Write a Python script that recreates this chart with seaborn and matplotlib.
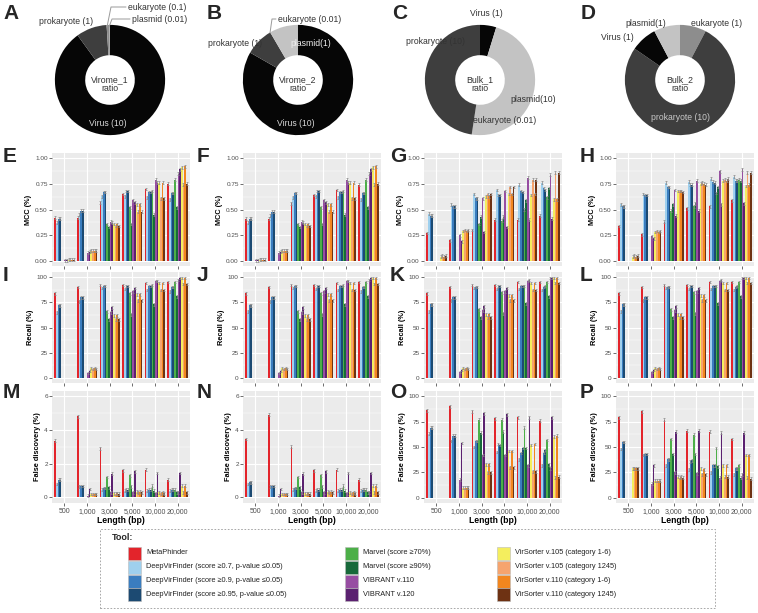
import numpy as np
import pandas as pd
import matplotlib
matplotlib.use("Agg")
import matplotlib.pyplot as plt
import seaborn as sns
from matplotlib.lines import Line2D
from matplotlib.patches import Rectangle

W, H = 758, 613

# ---------------- data ----------------
lengths = ["500", "1,000", "3,000", "5,000", "10,000", "20,000"]
tools = [
    "MetaPhinder",
    "DeepVirFinder (score \u22650.7, p-value \u22640.05)",
    "DeepVirFinder (score \u22650.9, p-value \u22640.05)",
    "DeepVirFinder (score \u22650.95, p-value \u22640.05)",
    "Marvel (score \u226570%)",
    "Marvel (score \u226590%)",
    "VIBRANT v.110",
    "VIBRANT v.120",
    "VirSorter v.105 (category 1-6)",
    "VirSorter v.105 (category 1245)",
    "VirSorter v.110 (category 1-6)",
    "VirSorter v.110 (category 1245)",
]
tool_colors = ["#E3242B", "#9FD0EE", "#3A7DBF", "#1C4A72",
               "#4CAF48", "#17693A", "#974DA2", "#5B2170",
               "#F4EE5E", "#F6A46E", "#F2861F", "#6E3213"]

# MCC (rows = lengths, cols = tools)
mcc_virome1 = [
    [0.42, 0.37, 0.41, 0.41, 0, 0, 0.005, 0.005, 0.01, 0.01, 0.01, 0.01],
    [0.42, 0.45, 0.49, 0.49, 0, 0, 0.08, 0.09, 0.10, 0.10, 0.10, 0.10],
    [0.57, 0.63, 0.67, 0.67, 0.36, 0.33, 0.38, 0.37, 0.36, 0.34, 0.36, 0.34],
    [0.65, 0.63, 0.68, 0.68, 0.52, 0.36, 0.59, 0.57, 0.55, 0.48, 0.55, 0.48],
    [0.70, 0.62, 0.67, 0.67, 0.68, 0.45, 0.79, 0.76, 0.76, 0.61, 0.76, 0.61],
    [0.75, 0.60, 0.66, 0.66, 0.79, 0.52, 0.85, 0.89, 0.91, 0.74, 0.92, 0.75],
]
mcc_virome2 = [
    [0.41, 0.37, 0.41, 0.41, 0, 0, 0.005, 0.005, 0.01, 0.01, 0.01, 0.01],
    [0.41, 0.44, 0.48, 0.48, 0, 0, 0.08, 0.09, 0.10, 0.10, 0.10, 0.10],
    [0.56, 0.62, 0.66, 0.66, 0.36, 0.33, 0.38, 0.37, 0.36, 0.34, 0.36, 0.34],
    [0.64, 0.63, 0.68, 0.68, 0.52, 0.36, 0.59, 0.57, 0.55, 0.48, 0.55, 0.48],
    [0.69, 0.62, 0.67, 0.67, 0.68, 0.45, 0.79, 0.76, 0.76, 0.61, 0.76, 0.61],
    [0.74, 0.60, 0.66, 0.66, 0.79, 0.52, 0.85, 0.89, 0.91, 0.74, 0.92, 0.75],
]
mcc_bulk1 = [
    [0.27, 0.46, 0.44, 0.44, 0, 0, 0, 0, 0.04, 0.05, 0.04, 0.05],
    [0.20, 0.55, 0.53, 0.53, 0, 0, 0.25, 0.19, 0.29, 0.30, 0.29, 0.30],
    [0.30, 0.65, 0.61, 0.61, 0.36, 0.43, 0.61, 0.28, 0.63, 0.65, 0.63, 0.65],
    [0.40, 0.69, 0.64, 0.64, 0.39, 0.43, 0.68, 0.33, 0.65, 0.72, 0.65, 0.72],
    [0.40, 0.74, 0.68, 0.67, 0.50, 0.59, 0.81, 0.40, 0.64, 0.79, 0.65, 0.79],
    [0.44, 0.76, 0.71, 0.69, 0.62, 0.71, 0.84, 0.41, 0.60, 0.86, 0.60, 0.86],
]
mcc_bulk2 = [
    [0.34, 0.55, 0.53, 0.53, 0, 0, 0, 0, 0.04, 0.05, 0.04, 0.05],
    [0.26, 0.65, 0.64, 0.64, 0, 0, 0.24, 0.22, 0.28, 0.29, 0.28, 0.29],
    [0.38, 0.76, 0.72, 0.72, 0.49, 0.55, 0.69, 0.44, 0.68, 0.68, 0.68, 0.67],
    [0.51, 0.77, 0.74, 0.74, 0.53, 0.56, 0.78, 0.49, 0.75, 0.76, 0.75, 0.74],
    [0.53, 0.80, 0.77, 0.76, 0.66, 0.72, 0.87, 0.55, 0.78, 0.79, 0.78, 0.80],
    [0.59, 0.82, 0.78, 0.78, 0.79, 0.78, 0.89, 0.56, 0.73, 0.86, 0.74, 0.86],
]
# Recall (%)
recall_virome1 = [
    [84, 65, 72, 72, 0, 0, 0, 0, 0, 0, 0, 0],
    [90, 76, 80, 80, 0, 0, 5, 7, 10, 9, 10, 9],
    [92, 89, 91, 91, 66, 58, 65, 70, 62, 58, 62, 58],
    [92, 88, 91, 91, 84, 63, 86, 89, 83, 77, 83, 77],
    [94, 87, 91, 91, 92, 73, 96, 96, 94, 87, 94, 87],
    [95, 86, 90, 90, 95, 81, 97, 99, 99, 93, 99, 93],
]
recall_virome2 = [
    [84, 66, 72, 72, 0, 0, 0, 0, 0, 0, 0, 0],
    [90, 76, 80, 80, 0, 0, 5, 7, 10, 9, 10, 9],
    [92, 89, 91, 91, 66, 58, 65, 70, 62, 58, 62, 58],
    [92, 88, 91, 91, 84, 63, 86, 89, 83, 77, 83, 77],
    [94, 87, 91, 91, 92, 73, 96, 96, 94, 87, 94, 87],
    [95, 86, 90, 90, 95, 81, 97, 99, 99, 93, 99, 93],
]
recall_bulk1 = [
    [84, 66, 73, 73, 0, 0, 0, 0, 0, 0, 0, 0],
    [90, 77, 80, 80, 0, 0, 6, 8, 10, 9, 10, 9],
    [92, 89, 90, 90, 68, 60, 67, 71, 63, 60, 63, 60],
    [92, 88, 91, 91, 85, 64, 86, 89, 82, 77, 82, 77],
    [95, 88, 91, 91, 91, 74, 96, 97, 94, 87, 94, 87],
    [95, 87, 90, 91, 95, 81, 99, 99, 99, 94, 99, 94],
]
recall_bulk2 = [
    [84, 66, 73, 73, 0, 0, 0, 0, 0, 0, 0, 0],
    [90, 77, 80, 80, 0, 0, 6, 8, 10, 9, 10, 9],
    [92, 89, 90, 90, 68, 60, 67, 71, 63, 60, 63, 60],
    [92, 88, 91, 91, 85, 64, 86, 89, 82, 77, 82, 77],
    [95, 88, 91, 91, 91, 74, 96, 97, 94, 87, 94, 87],
    [95, 87, 90, 91, 95, 81, 99, 99, 99, 94, 99, 94],
]
# False discovery (%)
fd_virome1 = [
    [3.35, 0.8, 1.05, 1.05, 0, 0, 0, 0, 0, 0, 0, 0],
    [4.8, 0.65, 0.68, 0.68, 0, 0, 0.1, 0.5, 0.2, 0.2, 0.2, 0.2],
    [2.9, 0.45, 0.55, 0.55, 1.2, 0.6, 0.3, 1.4, 0.25, 0.22, 0.25, 0.22],
    [1.6, 0.4, 0.45, 0.45, 1.3, 0.65, 0.3, 1.55, 0.35, 0.3, 0.35, 0.3],
    [1.65, 0.4, 0.45, 0.45, 0.7, 0.4, 0.25, 1.45, 0.3, 0.25, 0.3, 0.25],
    [1.05, 0.4, 0.45, 0.45, 0.45, 0.3, 0.3, 1.45, 0.7, 0.3, 0.7, 0.3],
]
fd_virome2 = [
    [3.45, 0.8, 0.9, 0.9, 0, 0, 0, 0, 0, 0, 0, 0],
    [4.9, 0.65, 0.68, 0.68, 0, 0, 0.1, 0.5, 0.2, 0.2, 0.2, 0.2],
    [3.0, 0.45, 0.55, 0.55, 1.2, 0.6, 0.3, 1.4, 0.25, 0.22, 0.25, 0.22],
    [1.6, 0.4, 0.45, 0.45, 1.3, 0.65, 0.3, 1.55, 0.35, 0.3, 0.35, 0.3],
    [1.65, 0.4, 0.45, 0.45, 0.7, 0.4, 0.25, 1.45, 0.3, 0.25, 0.3, 0.25],
    [1.05, 0.4, 0.45, 0.45, 0.45, 0.3, 0.3, 1.45, 0.7, 0.3, 0.7, 0.3],
]
fd_bulk1 = [
    [86, 63, 69, 69, 0, 0, 0, 0, 0, 0, 0, 0],
    [90, 56, 61, 61, 0, 0, 18, 54, 10, 10, 10, 10],
    [85, 50, 56, 56, 77, 64, 42, 83, 33, 25, 33, 25],
    [78, 45, 53, 52, 77, 65, 42, 82, 46, 30, 46, 30],
    [79, 38, 44, 49, 69, 49, 32, 79, 52, 26, 53, 26],
    [76, 32, 44, 47, 57, 33, 29, 79, 60, 20, 61, 21],
]
fd_bulk2 = [
    [79, 48, 55, 55, 0, 0, 0, 0, 29, 29, 29, 29],
    [85, 42, 43, 43, 0, 0, 14, 32, 17, 17, 17, 17],
    [77, 32, 38, 38, 58, 43, 25, 65, 21, 20, 21, 20],
    [66, 28, 36, 37, 62, 43, 24, 66, 29, 23, 28, 23],
    [65, 25, 32, 32, 49, 31, 20, 64, 32, 21, 32, 21],
    [58, 23, 29, 29, 32, 20, 23, 64, 42, 20, 42, 19],
]

# donut data
virome1_parts = ["Virus", "prokaryote", "eukaryote", "plasmid"]
virome1_vals = [10, 1, 0.1, 0.01]
virome2_parts = ["Virus", "prokaryote", "plasmid", "eukaryote"]
virome2_vals = [10, 1, 1, 0.01]
bulk1_parts = ["Virus", "plasmid", "eukaryote", "prokaryote"]
bulk1_vals = [1, 10, 0.01, 10]
bulk2_parts = ["eukaryote", "prokaryote", "Virus", "plasmid"]
bulk2_vals = [1, 10, 1, 1]
part_colors = {"Virus": "#060606", "prokaryote": "#3E3E3E",
               "eukaryote": "#8D8D8D", "plasmid": "#C3C3C3"}

# ---------------- style ----------------
sns.set_theme(style="darkgrid")
plt.rcParams["font.family"] = ["Liberation Sans", "DejaVu Sans"]

fig = plt.figure(figsize=(W / 100, H / 100), dpi=100)


def rect(x, y, w, h):
    return [x / W, 1 - (y + h) / H, w / W, h / H]


def fx(x):
    return x / W


def fy(y):
    return 1 - y / H


TXT = "#333333"

# ---------------- donuts ----------------
donuts = [
    (virome1_parts, virome1_vals, 110, 80, "Virome_1\nratio"),
    (virome2_parts, virome2_vals, 298, 80, "Virome_2\nratio"),
    (bulk1_parts, bulk1_vals, 480, 80, "Bulk_1\nratio"),
    (bulk2_parts, bulk2_vals, 680, 80, "Bulk_2\nratio"),
]
for parts, vals, cx, cy, centre in donuts:
    ax = fig.add_axes(rect(cx - 70, cy - 70, 140, 140))
    ax.pie(vals, colors=[part_colors[p] for p in parts], startangle=90,
           counterclock=False, radius=1,
           wedgeprops=dict(width=0.55, linewidth=0))
    ax.set_xlim(-1.27, 1.27)
    ax.set_ylim(-1.27, 1.27)
    ax.set_aspect("equal")
    ax.axis("off")
    ax.text(0, -0.08, centre, ha="center", va="center", fontsize=6.3,
            color=TXT, linespacing=1.0)

donut_labels = [
    # (x_left, y_center, text, color)
    (39, 21, "prokaryote (1)", TXT),
    (128, 7, "eukaryote (0.1)", TXT),
    (132, 19, "plasmid (0.01)", TXT),
    (89, 124, "Virus (10)", "#D8D8D8"),
    (278, 19, "eukaryote (0.01)", TXT),
    (208, 44, "prokaryote (1)", TXT),
    (290, 44, "plasmid(1)", "#EEEEEE"),
    (277, 124, "Virus (10)", "#D8D8D8"),
    (470, 13, "Virus (1)", TXT),
    (406, 42, "prokaryote (10)", TXT),
    (510, 100, "plasmid(10)", TXT),
    (473, 120, "eukaryote (0.01)", TXT),
    (625, 23, "plasmid(1)", TXT),
    (691, 23, "eukaryote (1)", TXT),
    (601, 38, "Virus (1)", TXT),
    (651, 117, "prokaryote (10)", "#C8C8C8"),
]
for x, y, s, c in donut_labels:
    fig.text(fx(x), fy(y), s, ha="left", va="center", fontsize=6.2, color=c)

leaders = [
    [(107, 27), (111, 7), (126, 7)],
    [(109, 27), (112, 19), (130, 19)],
    [(270, 33), (272, 19), (276, 19)],
]
for pts in leaders:
    xs = [fx(p[0]) for p in pts]
    ys = [fy(p[1]) for p in pts]
    fig.add_artist(Line2D(xs, ys, color="#9A9A9A", lw=0.7))

# ---------------- bar panels ----------------
col_left = [52, 243, 424, 616]
col_w = 138
row_top = [153, 272, 391]
row_h = [113, 111, 112]

metrics = [
    [mcc_virome1, mcc_virome2, mcc_bulk1, mcc_bulk2],
    [recall_virome1, recall_virome2, recall_bulk1, recall_bulk2],
    [fd_virome1, fd_virome2, fd_bulk1, fd_bulk2],
]
ylabels = ["MCC (%)", "Recall (%)", "False discovery (%)"]
letters = [["E", "F", "G", "H"], ["I", "J", "K", "L"], ["M", "N", "O", "P"]]
letter_x = [3, 197, 390, 580]
letter_y = [147, 266, 383]

for r in range(3):
    for c in range(4):
        vals = metrics[r][c]
        df = pd.DataFrame([
            {"length": lengths[i], "tool": tools[j], "value": vals[i][j]}
            for i in range(len(lengths)) for j in range(len(tools))
        ])
        ax = fig.add_axes(rect(col_left[c], row_top[r], col_w, row_h[r]))
        sns.barplot(data=df, x="length", y="value", hue="tool",
                    order=lengths, hue_order=tools, palette=tool_colors,
                    width=0.9, gap=0, errorbar=None, legend=False,
                    saturation=1, linewidth=0, ax=ax)
        if r == 0:
            ylim, ticks, minor, fmt = (-0.05, 1.05), [0, 0.25, 0.5, 0.75, 1.0], \
                [0.125, 0.375, 0.625, 0.875], "{:.2f}"
        elif r == 2 and c < 2:
            ylim, ticks, minor, fmt = (-0.33, 6.3), [0, 2, 4, 6], [1, 3, 5], "{:g}"
        else:
            ylim, ticks, minor, fmt = (-5, 105), [0, 25, 50, 75, 100], \
                [12.5, 37.5, 62.5, 87.5], "{:g}"
        span = ylim[1] - ylim[0]
        # small error bars
        xs, hs = [], []
        for p in ax.patches:
            h = p.get_height()
            if h > 0:
                xs.append(p.get_x() + p.get_width() / 2)
                hs.append(h)
        ax.errorbar(xs, hs, yerr=0.012 * span, fmt="none", ecolor="#8A8A8A",
                    elinewidth=0.5, capsize=0.6, capthick=0.5, zorder=3)
        ax.set_ylim(*ylim)
        ax.set_xlim(-0.55, 5.55)
        ax.set_yticks(ticks)
        ax.set_yticklabels([fmt.format(t) for t in ticks])
        ax.set_yticks(minor, minor=True)
        ax.set_facecolor("#EBEBEB")
        ax.grid(which="major", color="white", lw=0.8)
        ax.grid(which="minor", axis="y", color="white", lw=0.35)
        ax.set_axisbelow(True)
        for s in ax.spines.values():
            s.set_visible(False)
        ax.tick_params(axis="both", which="major", length=2, width=0.5,
                       color="#333333", labelsize=4.6, labelcolor="#4D4D4D",
                       pad=1, bottom=True, left=True)
        ax.tick_params(which="minor", length=0)
        ax.set_ylabel(ylabels[r], fontsize=5.3, fontweight="bold",
                      labelpad=2, color="black")
        if r == 2:
            ax.tick_params(axis="x", labelsize=5.0, pad=1.5)
            ax.set_xlabel("Length (bp)", fontsize=6.2, fontweight="bold",
                          labelpad=1, color="black")
        else:
            ax.set_xticklabels([])
            ax.set_xlabel("")

        fig.text(fx(letter_x[c]), fy(letter_y[r]), letters[r][c],
                 fontsize=15, fontweight="bold", ha="left", va="top")

for c, L in enumerate(["A", "B", "C", "D"]):
    fig.text(fx([3, 207, 392, 581][c]), fy(4), L, fontsize=15,
             fontweight="bold", ha="left", va="top")

# ---------------- legend ----------------
fig.add_artist(Rectangle((fx(100), fy(608)), (715 - 100) / W, (608 - 529) / H,
                         transform=fig.transFigure, fill=False,
                         edgecolor="#9A9A9A", lw=0.6, linestyle=(0, (2, 2))))
fig.text(fx(112), fy(538), "Tool:", fontsize=6.5, fontweight="bold",
         ha="left", va="center")
sq_x = [128, 345, 497]
txt_x = [146, 363, 515]
row_y = [553, 567, 581, 594]
sq = 13
for k, (tool, col) in enumerate(zip(tools, tool_colors)):
    cidx, ridx = divmod(k, 4)
    x0 = sq_x[cidx]
    y0 = row_y[ridx]
    fig.add_artist(Rectangle((fx(x0), fy(y0 + sq / 2)), sq / W, sq / H,
                             transform=fig.transFigure, facecolor=col,
                             edgecolor="#BBBBBB", lw=0.4))
    fig.text(fx(txt_x[cidx]), fy(y0), tool, fontsize=5.3, color="#222222",
             ha="left", va="center")

fig.savefig("out.png", dpi=100)
